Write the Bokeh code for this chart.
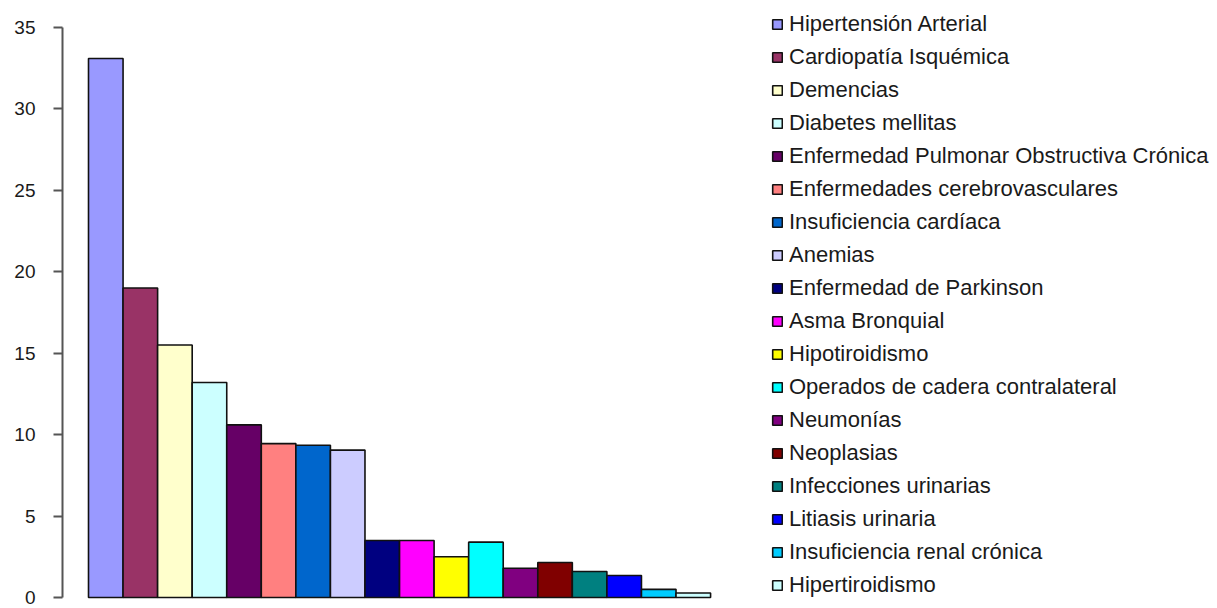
from bokeh.plotting import figure
from bokeh.models import Range1d, Legend, LegendItem, FixedTicker
from bokeh.embed import file_html
from bokeh.resources import INLINE

categories = [
    "Hipertensión Arterial", "Cardiopatía Isquémica", "Demencias", "Diabetes mellitas",
    "Enfermedad Pulmonar Obstructiva Crónica", "Enfermedades cerebrovasculares",
    "Insuficiencia cardíaca", "Anemias", "Enfermedad de Parkinson", "Asma Bronquial",
    "Hipotiroidismo", "Operados de cadera contralateral", "Neumonías", "Neoplasias",
    "Infecciones urinarias", "Litiasis urinaria", "Insuficiencia renal crónica", "Hipertiroidismo",
]
values = [33.1, 19.0, 15.5, 13.2, 10.6, 9.45, 9.35, 9.05, 3.5, 3.5,
          2.5, 3.4, 1.8, 2.15, 1.6, 1.35, 0.5, 0.28]
colors = ["#9999FF", "#993366", "#FFFFCC", "#CCFFFF", "#660066", "#FF8080",
          "#0066CC", "#CCCCFF", "#000080", "#FF00FF", "#FFFF00", "#00FFFF",
          "#800080", "#800000", "#008080", "#0000FF", "#00CCFF", "#CCFFFF"]
y_ticks = [0, 5, 10, 15, 20, 25, 30, 35]

W, H = 1216, 608
left = 62
frame_w = W - left
y0_px, y35_px = 597, 27           # pixel rows (from figure top) of 0 and 35
ppu = (y0_px - y35_px) / 35.0
bar_px = 34.56
x_start = -0.5 - 26 / bar_px

p = figure(width=W, height=H, output_backend="svg", toolbar_location=None,
           x_range=Range1d(x_start, x_start + frame_w / bar_px),
           y_range=Range1d(-(H - y0_px) / ppu, 35 + y35_px / ppu),
           min_border_left=left, min_border_right=0, min_border_top=0,
           min_border_bottom=0)
p.xaxis.visible = False
p.xgrid.visible = False
p.ygrid.visible = False
p.outline_line_color = None
p.background_fill_color = "white"

items = []
for i, (name, v, c) in enumerate(zip(categories, values, colors)):
    r = p.vbar(x=[i], top=[v], bottom=0, width=1.0, fill_color=c,
               line_color="#111111", line_width=1.6)
    items.append(LegendItem(label=name, renderers=[r]))

ax = p.yaxis[0]
ax.ticker = FixedTicker(ticks=y_ticks)
ax.bounds = (0, 35)
ax.axis_line_color = "#555555"
ax.axis_line_width = 2
ax.major_tick_line_color = "#555555"
ax.major_tick_line_width = 2
ax.major_tick_out = 9
ax.major_tick_in = 0
ax.minor_tick_line_color = None
ax.major_label_standoff = 18
ax.major_label_text_font = "Liberation Sans"
ax.major_label_text_font_size = "19px"
ax.major_label_text_color = "#1a1a1a"

legend = Legend(items=items, location=(709, 10), orientation="vertical",
                margin=0, padding=0, spacing=7, border_line_color=None,
                background_fill_alpha=0, glyph_width=12, glyph_height=12,
                label_height=21, label_standoff=6,
                label_text_font="Liberation Sans", label_text_font_size="22px",
                label_text_color="#1a1a1a")
p.add_layout(legend, "center")

open("out.html", "w").write(file_html(p, INLINE))
